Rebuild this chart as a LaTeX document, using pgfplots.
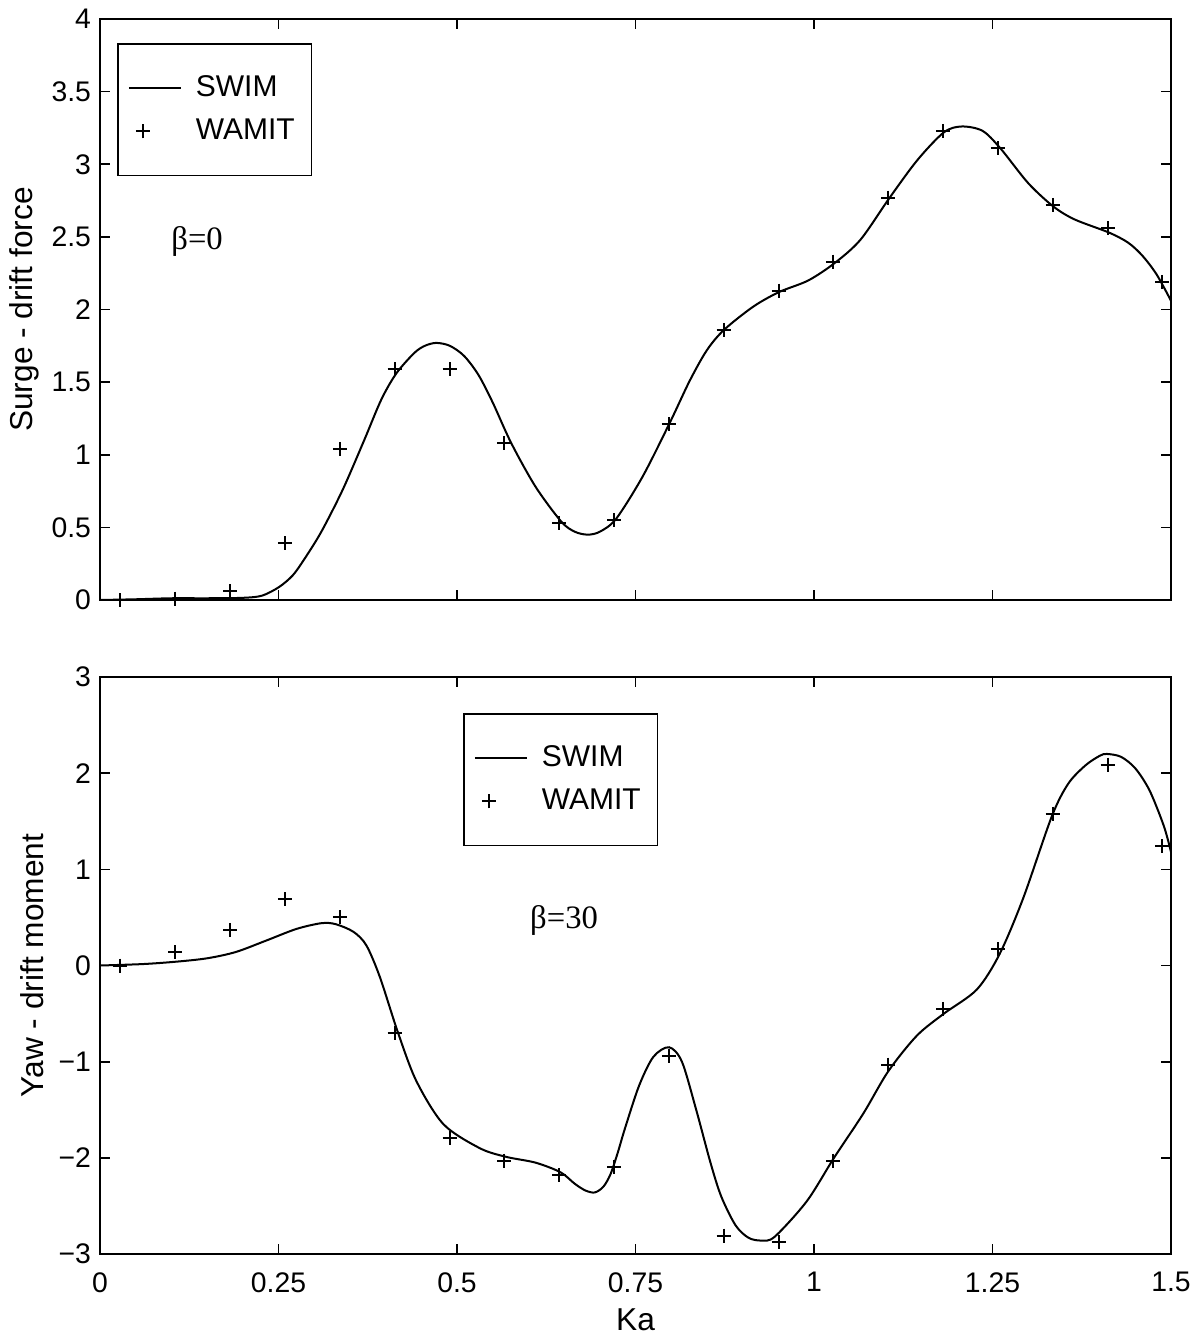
\documentclass[border=0pt]{standalone}
\usepackage{fontspec}
\setmainfont{Liberation Sans}
\newfontfamily\seriffont{Liberation Serif}
\usepackage{pgfplots}
\pgfplotsset{compat=1.18}

\pgfplotsset{
  mybase/.style={
    scale only axis,
    width=321.3pt,
    xmin=0, xmax=1.5,
    xtick={0,0.25,0.5,0.75,1,1.25,1.5},
    tick align=inside,
    tick pos=both,
    xticklabel pos=lower,
    yticklabel pos=left,
    major tick length=3pt,
    axis line style={line width=0.5pt},
    every tick/.style={black, line width=0.5pt},
    /pgf/number format/assume math mode=true,
    tick label style={font=\fontsize{8.5}{10}\selectfont},
    label style={font=\fontsize{9.5}{11}\selectfont},
    yticklabel style={inner xsep=2.5pt},
    xticklabel style={yshift=-2pt},
    legend style={draw=black, line width=0.5pt, fill=white,
      font=\fontsize{9}{11}\selectfont,
      inner xsep=3pt, inner ysep=7.4pt, row sep=1.2pt,
      cells={anchor=west}},
    legend cell align=left,
  },
  swim/.style={black, line width=0.6pt, smooth, tension=0.5, no marks,
    legend image code/.code={\draw[black, line width=0.6pt] (0pt,0pt) -- (15.6pt,0pt);}},
  wamit/.style={black, only marks, mark=+, mark size=2.1pt, line width=0.6pt,
    legend image code/.code={\path[draw=none, fill=none] (0pt,0pt) -- (15.6pt,0pt);
      \draw[black, line width=0.6pt] (2.1pt,0pt) -- (6.3pt,0pt) (4.2pt,-2.1pt) -- (4.2pt,2.1pt);}},
}

\begin{document}
\begin{tikzpicture}
\useasboundingbox (-30pt,5.7pt) rectangle (329.7pt,-395.7pt);

% ---------------- Top: surge drift force ----------------
\begin{axis}[mybase,
  at={(0pt,0pt)}, anchor=north west,
  height=174.3pt,
  ymin=0, ymax=4,
  ytick={0,0.5,1,1.5,2,2.5,3,3.5,4},
  yticklabels={0,0.5,1,1.5,2,2.5,3,3.5,4},
  xticklabels={},
  ylabel={Surge - drift force},
  ylabel style={at={(axis description cs:-0.0705,0.5)}, anchor=center},
  legend style={at={(0.0159,0.9587)}, anchor=north west},
]
\addplot[swim] coordinates {
(0,0) (0.05,0.005) (0.1,0.012) (0.15,0.012) (0.2,0.015) (0.227,0.03)
(0.251,0.09) (0.27,0.17) (0.286,0.28) (0.31,0.47) (0.34,0.76) (0.37,1.1)
(0.394,1.38) (0.415,1.56) (0.44,1.70) (0.455,1.75) (0.471,1.77) (0.49,1.75)
(0.51,1.68) (0.53,1.55) (0.55,1.36) (0.576,1.08) (0.61,0.78) (0.646,0.54)
(0.665,0.47) (0.683,0.45) (0.70,0.47) (0.723,0.56) (0.76,0.85) (0.798,1.22)
(0.826,1.51) (0.85,1.72) (0.874,1.86) (0.915,2.02) (0.951,2.12) (0.992,2.20)
(1.029,2.32) (1.065,2.48) (1.106,2.77) (1.145,3.03) (1.182,3.22) (1.207,3.26)
(1.236,3.23) (1.261,3.11) (1.30,2.87) (1.335,2.71) (1.365,2.62) (1.413,2.53)
(1.44,2.46) (1.46,2.37) (1.48,2.24) (1.5,2.06)
};
\addlegendentry{\hspace{2.2pt}SWIM}
\addplot[wamit] coordinates {
(0.0287,0.0) (0.1055,0.01) (0.1823,0.06) (0.2591,0.39) (0.3359,1.04)
(0.4127,1.59) (0.4895,1.59) (0.5663,1.08) (0.6431,0.53) (0.7199,0.55)
(0.7967,1.21) (0.8735,1.86) (0.9503,2.13) (1.0271,2.33) (1.1039,2.77)
(1.1807,3.23) (1.2575,3.11) (1.3343,2.72) (1.4111,2.56) (1.4879,2.19)
};
\addlegendentry{\hspace{2.2pt}WAMIT\hspace{3.3pt}}
\node[font=\seriffont\fontsize{9.8}{11}\selectfont] at (axis cs:0.136,2.47) {β=0};
\end{axis}

% ---------------- Bottom: yaw drift moment ----------------
\begin{axis}[mybase,
  at={(0pt,-197.4pt)}, anchor=north west,
  height=173.1pt,
  ymin=-3, ymax=3,
  ytick={-3,-2,-1,0,1,2,3},
  yticklabels={−3,−2,−1,0,1,2,3},
  xticklabels={0,0.25,0.5,0.75,1,1.25,1.5},
  xlabel={Ka},
  xlabel style={at={(axis description cs:0.5,0)}, yshift=-19.8pt, anchor=center},
  ylabel={Yaw - drift moment},
  ylabel style={at={(axis description cs:-0.0635,0.5)}, anchor=center},
  legend style={at={(0.339,0.9376)}, anchor=north west},
]
\addplot[swim] coordinates {
(0,0) (0.06,0.015) (0.107,0.04) (0.15,0.075) (0.19,0.14) (0.233,0.26)
(0.275,0.38) (0.31,0.44) (0.33,0.43) (0.355,0.35) (0.373,0.21)
(0.392,-0.12) (0.417,-0.69) (0.443,-1.2) (0.481,-1.65) (0.532,-1.90) (0.569,-1.99)
(0.61,-2.05) (0.645,-2.15) (0.665,-2.27) (0.68,-2.34) (0.693,-2.36) (0.705,-2.30)
(0.715,-2.17) (0.725,-1.95) (0.735,-1.70) (0.755,-1.25) (0.775,-0.95) (0.797,-0.85)
(0.815,-1.0) (0.835,-1.5) (0.855,-2.05) (0.87,-2.4) (0.89,-2.7) (0.908,-2.83)
(0.926,-2.86) (0.945,-2.82) (0.99,-2.45) (1.028,-2.0) (1.069,-1.54) (1.104,-1.10)
(1.144,-0.73) (1.182,-0.50) (1.228,-0.25) (1.26,0.12) (1.293,0.70) (1.333,1.55)
(1.356,1.89) (1.38,2.08) (1.40,2.18) (1.41,2.2) (1.43,2.17) (1.45,2.05)
(1.47,1.82) (1.49,1.45) (1.5,1.18)
};
\addlegendentry{\hspace{2.2pt}SWIM}
\addplot[wamit] coordinates {
(0.0287,0.0) (0.1055,0.14) (0.1823,0.37) (0.2591,0.69) (0.3359,0.50)
(0.4127,-0.70) (0.4895,-1.79) (0.5663,-2.03) (0.6431,-2.18) (0.7199,-2.09)
(0.7967,-0.94) (0.8735,-2.81) (0.9503,-2.88) (1.0271,-2.03) (1.1039,-1.03)
(1.1807,-0.45) (1.2575,0.17) (1.3343,1.58) (1.4111,2.09) (1.4879,1.24)
};
\addlegendentry{\hspace{2.2pt}WAMIT\hspace{3.3pt}}
\node[font=\seriffont\fontsize{9.8}{11}\selectfont] at (axis cs:0.65,0.47) {β=30};
\end{axis}
\end{tikzpicture}
\end{document}
